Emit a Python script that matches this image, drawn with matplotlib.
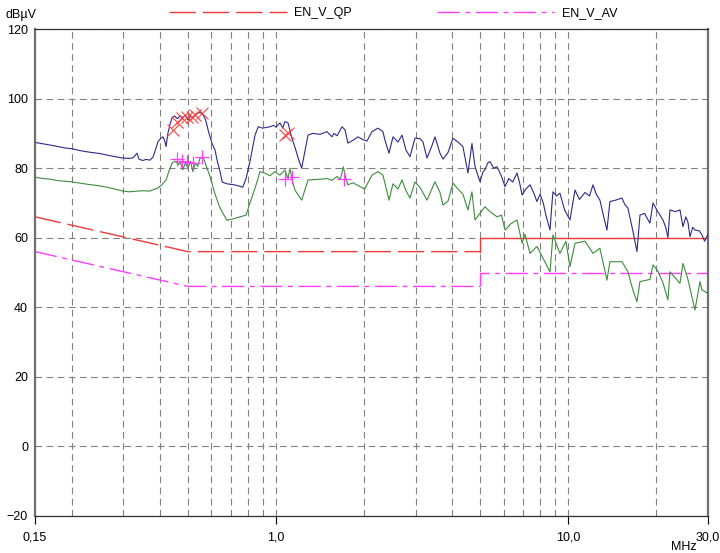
import matplotlib.pyplot as plt
import numpy as np
from matplotlib.ticker import FixedLocator, NullFormatter

plt.rcParams['font.family'] = ['Liberation Sans', 'DejaVu Sans']

# Peak trace (MHz, dBuV)
pk_freq = [0.150, 0.160, 0.170, 0.180, 0.190, 0.200, 0.215, 0.230, 0.250, 0.270, 0.290, 0.300,
           0.315, 0.325, 0.335, 0.340, 0.350, 0.360, 0.371, 0.380, 0.388, 0.395, 0.403, 0.411,
           0.416, 0.421, 0.427, 0.435, 0.441, 0.450, 0.460, 0.470, 0.480, 0.490, 0.500, 0.510,
           0.520, 0.530, 0.540, 0.550, 0.565, 0.575, 0.590, 0.605, 0.619, 0.630, 0.644, 0.655,
           0.680, 0.720, 0.753, 0.770, 0.790, 0.815, 0.848, 0.870, 0.900, 0.954, 0.980, 1.000,
           1.032, 1.055, 1.073, 1.100, 1.130, 1.161, 1.195, 1.224, 1.287, 1.338, 1.414, 1.494,
           1.554, 1.579, 1.617, 1.682, 1.722, 1.762, 1.833, 1.907, 1.980, 2.047, 2.130, 2.232,
           2.321, 2.359, 2.435, 2.512, 2.613, 2.697, 2.783, 2.872, 2.987, 3.107, 3.182, 3.283,
           3.415, 3.497, 3.637, 3.724, 3.874, 4.029, 4.191, 4.357, 4.533, 4.678, 4.791, 4.983,
           5.100, 5.180, 5.300, 5.390, 5.550, 5.700, 5.880, 6.070, 6.250, 6.450, 6.670,
           6.800, 6.940, 7.150, 7.390, 7.600, 7.800, 8.000, 8.200, 8.400, 8.650, 8.750, 8.850,
           9.100, 9.350, 9.700, 10.12, 10.30, 10.53, 10.90, 11.39, 11.80, 12.13, 12.45, 12.81,
           13.20, 13.54, 13.86, 14.50, 15.24, 15.60, 15.97, 16.60, 17.15, 17.56, 18.20, 18.99,
           19.46, 20.20, 21.05, 21.50, 21.89, 22.23, 23.20, 24.06, 24.63, 25.20, 25.62, 26.03,
           26.60, 27.07, 28.00, 28.60, 29.20, 30.00]
pk_level = [87.4, 87.0, 86.6, 86.2, 85.8, 85.6, 85.0, 84.6, 84.2, 83.6, 83.1, 82.9,
            82.8, 83.0, 84.3, 82.6, 82.2, 82.5, 82.3, 83.2, 85.5, 87.6, 88.5, 89.0,
            88.0, 86.2, 90.0, 92.8, 94.4, 95.0, 94.2, 95.0, 94.5, 95.2, 93.8, 95.0,
            94.5, 95.5, 95.8, 96.0, 95.2, 93.8, 90.0, 87.0, 85.2, 82.0, 79.0, 76.0,
            75.5, 75.2, 74.8, 74.5, 77.0, 82.0, 89.5, 91.9, 91.5, 91.9, 92.3, 91.8,
            93.0, 91.5, 93.4, 93.0, 89.0, 86.0, 82.5, 80.0, 89.5, 90.0, 89.7, 90.5,
            89.0, 90.0, 89.3, 91.9, 91.0, 87.2, 88.0, 89.0, 88.2, 87.8, 90.5, 91.5,
            90.5, 88.0, 84.3, 89.0, 87.5, 89.5, 85.2, 83.3, 88.6, 88.5, 87.5, 82.9,
            86.5, 89.0, 84.3, 82.6, 84.5, 88.6, 87.5, 86.2, 78.6, 87.1, 80.5, 76.1,
            78.9, 79.5, 81.5, 81.9, 80.0, 80.4, 78.0, 74.7, 77.0, 76.0, 78.6,
            76.0, 72.3, 74.0, 75.2, 73.0, 70.4, 72.5, 70.0, 66.0, 62.2, 68.0, 73.2,
            72.0, 72.8, 68.0, 65.1, 69.0, 73.7, 71.0, 73.0, 72.0, 75.2, 72.5, 70.8,
            66.0, 62.2, 70.4, 70.8, 71.4, 69.5, 68.5, 62.0, 56.0, 66.5, 67.0, 64.2,
            70.0, 67.5, 65.1, 63.0, 60.0, 68.0, 67.5, 68.0, 63.2, 66.0, 64.5, 60.3,
            63.0, 62.2, 62.0, 60.8, 59.0, 61.0]

# Average trace (MHz, dBuV)
av_freq = [0.150, 0.160, 0.170, 0.180, 0.198, 0.210, 0.225, 0.250, 0.265, 0.280, 0.300, 0.315,
           0.335, 0.350, 0.371, 0.385, 0.395, 0.410, 0.421, 0.430, 0.441, 0.452, 0.465, 0.470,
           0.480, 0.490, 0.500, 0.510, 0.520, 0.530, 0.540, 0.550, 0.565, 0.581, 0.595, 0.619,
           0.644, 0.680, 0.720, 0.753, 0.790, 0.815, 0.850, 0.882, 0.920, 0.954, 0.990, 1.032,
           1.073, 1.100, 1.116, 1.140, 1.161, 1.224, 1.287, 1.400, 1.494, 1.554, 1.617, 1.660,
           1.700, 1.722, 1.762, 1.833, 1.907, 2.010, 2.130, 2.232, 2.321, 2.435, 2.512, 2.613,
           2.697, 2.783, 2.872, 2.987, 3.107, 3.283, 3.497, 3.637, 3.724, 3.874, 4.029, 4.191,
           4.357, 4.533, 4.678, 4.791, 4.983, 5.180, 5.390,
           5.700, 5.900, 6.070, 6.350, 6.670, 6.940, 7.100, 7.390, 7.800, 8.200, 8.650, 8.850,
           9.350, 9.800, 10.12, 10.53, 11.39, 12.13, 12.81, 13.54, 13.86, 15.24, 15.97, 16.60,
           17.15, 17.56, 18.99, 19.46, 20.20, 21.05, 21.89, 22.23, 24.06, 24.63, 25.62, 27.07,
           28.16, 28.60, 30.00]
av_level = [77.4, 77.0, 76.8, 76.4, 76.1, 75.8, 75.4, 74.9, 74.5, 74.0, 73.4, 73.2,
            73.4, 73.5, 73.4, 74.0, 74.3, 75.5, 76.6, 79.0, 81.4, 82.0, 81.0, 82.0,
            79.5, 81.5, 80.0, 82.0, 79.0, 81.5, 80.5, 82.9, 83.0, 80.0, 77.6, 72.5,
            68.5, 65.0, 65.5, 66.0, 66.5, 70.0, 74.5, 79.0, 78.5, 77.8, 79.0, 78.0,
            79.5, 77.0, 80.0, 76.0, 73.7, 70.8, 76.6, 76.8, 77.0, 76.5, 77.6, 76.8,
            80.4, 78.0, 75.2, 75.8, 75.0, 74.0, 78.0, 79.0, 78.0, 70.8, 75.5, 74.0,
            76.6, 73.5, 71.4, 76.0, 74.5, 70.8, 76.1, 73.0, 69.4, 70.5, 75.7, 74.0,
            72.5, 68.0, 73.2, 65.1, 67.0, 68.9, 67.5,
            66.0, 66.5, 62.2, 64.0, 65.1, 58.4, 61.0, 55.5, 57.5, 54.0, 50.2, 60.8,
            55.5, 59.0, 51.7, 58.4, 59.0, 55.5, 57.0, 47.8, 53.1, 53.1, 50.2, 45.0,
            41.6, 47.4, 48.0, 52.2, 50.5, 47.0, 42.1, 50.2, 46.9, 52.6, 48.0, 39.2,
            47.4, 45.0, 44.0]

# Limit lines
qp_freq = [0.15, 0.5, 5.0]
qp_level = [66, 56, 56]
qp_hi_freq = [5.0, 5.0, 30.0]
qp_hi_level = [56, 60, 60]
av_lim_freq = [0.15, 0.5, 5.0]
av_lim_level = [56, 46, 46]
av_hi_freq = [5.0, 5.0, 30.0]
av_hi_level = [46, 50, 50]

# Final measurement points
qp_mark_f = [0.444, 0.459, 0.477, 0.496, 0.516, 0.529, 0.559, 1.073, 1.099]
qp_mark_v = [91.0, 93.3, 94.4, 94.6, 94.8, 95.3, 95.8, 89.5, 90.0]
av_mark_f = [0.458, 0.476, 0.495, 0.522, 0.557, 1.073, 1.132, 1.708]
av_mark_v = [82.7, 82.1, 81.9, 81.4, 83.3, 76.8, 77.5, 76.8]

fig = plt.figure(figsize=(7.2, 5.53), dpi=100)
ax = fig.add_axes([35 / 720, 1 - 516 / 553, 673 / 720, 487 / 553])

ax.plot(pk_freq, pk_level, color='#2b2b8c', lw=0.8, zorder=3)
ax.plot(av_freq, av_level, color='#3c8c3c', lw=0.8, zorder=3)

red = '#f03a3a'
mag = '#ff3cff'
qp_line, = ax.plot(qp_freq, qp_level, color=red, lw=1.0, dashes=(19, 5), label='EN_V_QP', zorder=2)
ax.plot(qp_hi_freq, qp_hi_level, color=red, lw=1.0, zorder=2)
av_line, = ax.plot(av_lim_freq, av_lim_level, color=mag, lw=1.0, dashes=(16, 4, 3.5, 4),
                   label='EN_V_AV', zorder=2)
ax.plot(av_hi_freq, av_hi_level, color=mag, lw=1.0, dashes=(16, 4, 3.5, 4), zorder=2)

ax.plot(qp_mark_f, qp_mark_v, ls='none', marker='x', ms=8.5, mew=0.8, color='#ff4545', zorder=4)
ax.plot(av_mark_f, av_mark_v, ls='none', marker='+', ms=10.5, mew=0.9, color=mag, zorder=4)

ax.set_xscale('log')
ax.set_xlim(0.15, 30)
ax.set_ylim(-20, 120)

# Grid
ax.xaxis.set_major_locator(FixedLocator([0.15, 1.0, 10.0, 30.0]))
ax.set_xticklabels(['0,15', '1,0', '10,0', '30,0'])
minor = [0.2, 0.3, 0.4, 0.5, 0.6, 0.7, 0.8, 0.9, 2, 3, 4, 5, 6, 7, 8, 9, 20]
ax.xaxis.set_minor_locator(FixedLocator(minor))
ax.xaxis.set_minor_formatter(NullFormatter())
ax.set_yticks(np.arange(-20, 121, 20))

gcol = '#808080'
ax.grid(True, which='minor', axis='x', color=gcol, lw=0.8, dashes=(6, 4))
ax.grid(True, which='major', axis='x', color=gcol, lw=0.8, dashes=(6, 4))
ax.grid(True, which='major', axis='y', color=gcol, lw=0.8, dashes=(6, 4))

ax.tick_params(axis='x', which='major', length=6, width=0.8, direction='out', labelsize=9, pad=5.5)
ax.tick_params(axis='x', which='minor', length=0)
ax.tick_params(axis='y', length=0, labelsize=9, pad=5)

for side in ['left', 'right']:
    ax.spines[side].set_color('#707070')
    ax.spines[side].set_linewidth(1.6)
for side in ['top', 'bottom']:
    ax.spines[side].set_color('#303030')
    ax.spines[side].set_linewidth(0.9)

fig.text(5 / 720, 1 - 15 / 553, 'dBµV', fontsize=9, va='center', ha='left')
fig.text(684 / 720, 1 - 547 / 553, 'MHz', fontsize=9, va='center', ha='center')

fig.legend(handles=[qp_line, av_line], loc='center left', bbox_to_anchor=(169 / 720, 1 - 13 / 553),
           ncol=2, frameon=False, fontsize=9, handlelength=9.4, columnspacing=6.8,
           handletextpad=0.6, borderaxespad=0, borderpad=0)

fig.savefig('out.png', dpi=100)
